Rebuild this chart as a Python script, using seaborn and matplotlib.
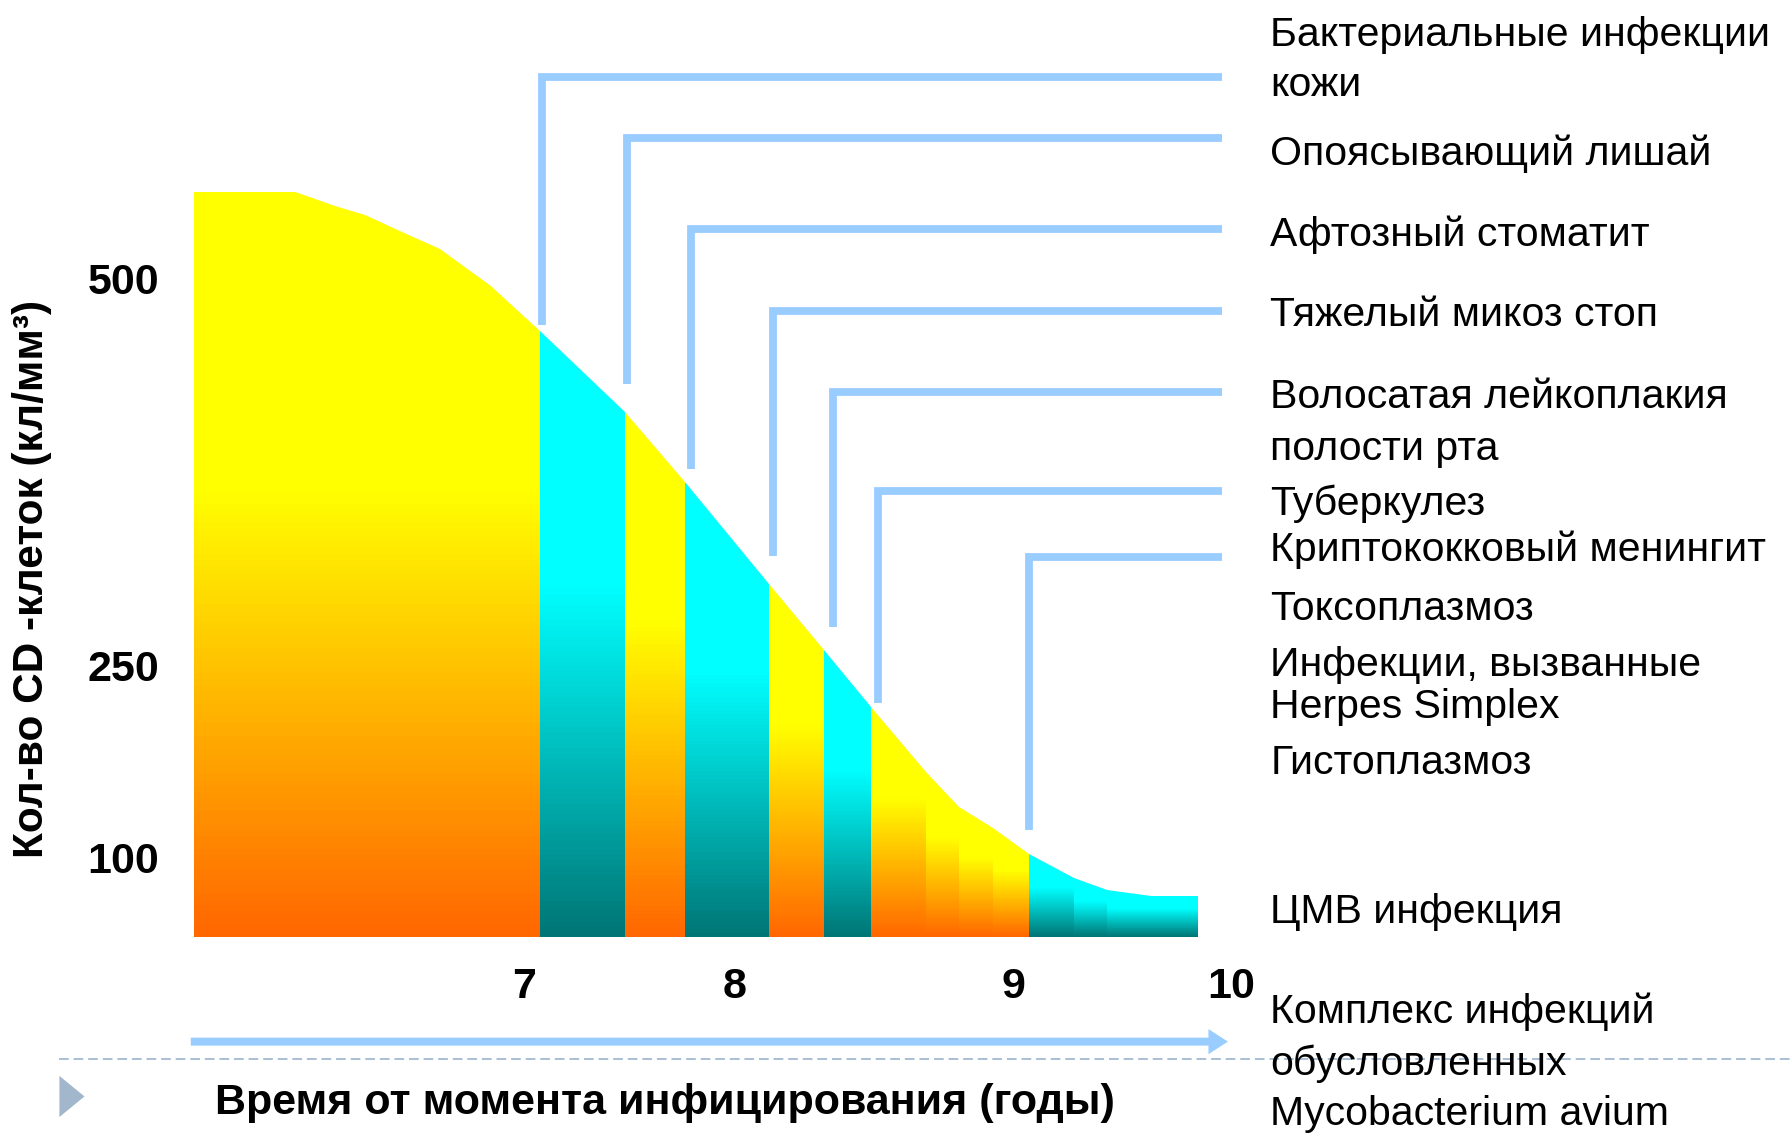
import numpy as np
import matplotlib
matplotlib.use("Agg")
import matplotlib.pyplot as plt
import seaborn as sns
from matplotlib.colors import LinearSegmentedColormap
from matplotlib.patches import Polygon, FancyArrow
from matplotlib.lines import Line2D

# --- values ---
# CD4 count against time since infection (years, cells per mm3)
years = [0, 2.13, 2.33, 2.98, 3.63, 4.40, 5.21, 5.91, 6.30, 6.59, 7.073, 7.477, 7.763,
         8.125, 8.320, 8.489, 8.686, 8.807, 8.927, 9.071, 9.279, 9.432, 9.630, 9.848]
cd4 = [556, 556, 554, 547, 541, 530, 519, 504, 495, 487, 466, 414, 369,
       303, 260, 218, 167, 140, 123, 103, 74, 59, 51, 51]

# coloured strips under the curve
strip_start = [0, 7.073, 7.477, 7.763, 8.125, 8.320, 8.489, 8.686, 8.807, 8.927,
               9.071, 9.279, 9.432]
strip_end = 9.848
strip_kind = ['warm', 'cool', 'warm', 'cool', 'warm', 'cool', 'warm', 'warm', 'warm',
              'warm', 'cool', 'cool', 'cool']

# onset markers of the infections
onset_year = [7.083, 7.488, 7.795, 8.139, 8.352, 8.515, 9.071]
onset_cd4 = [470, 432, 377, 321, 275, 221, 122]
leader_cd4 = [630, 591, 532, 479, 427, 363, 320]
leader_end = 9.958

x_ticks = [7, 8, 9, 10]
y_ticks = [100, 250, 500]

disease_lines = [
    "Бактериальные инфекции", "кожи", "Опоясывающий лишай", "Афтозный стоматит",
    "Тяжелый микоз стоп", "Волосатая лейкоплакия", "полости рта", "Туберкулез",
    "Криптококковый менингит", "Токсоплазмоз", "Инфекции, вызванные", "Herpes Simplex",
    "Гистоплазмоз", "ЦМВ инфекция", "Комплекс инфекций", "обусловленных",
    "Mycobacterium avium",
]

# --- layout (pixels of a 1568x992 frame) ---
W, H = 1568, 992
disease_line_y = [31, 74.5, 135, 205.5, 276, 347.5, 393, 441.5, 481.5, 533, 582,
                  619, 668, 798.5, 886, 931.5, 975]

# schematic (uneven) axes of the slide
X_YEARS = [-1, 0, 7, 8, 9, 10, 11, 12]
X_POS = [129, 170, 459, 643, 887, 1078, 1269, 1460]
Y_CD4 = [-100, 0, 100, 250, 900]
Y_POS = [-69, 0, 69, 237, 1118.4]


def x_fwd(v):
    return np.interp(v, X_YEARS, X_POS)


def x_inv(p):
    return np.interp(p, X_POS, X_YEARS)


def y_fwd(v):
    return np.interp(v, Y_CD4, Y_POS)


def y_inv(p):
    return np.interp(p, Y_POS, Y_CD4)


def fig_xy(x, y):
    return x / W, 1 - y / H


sns.set_theme(style="white")
plt.rcParams['font.family'] = ['Liberation Sans', 'DejaVu Sans']
plt.rcParams['text.color'] = 'black'
plt.rcParams['xtick.color'] = 'black'
plt.rcParams['ytick.color'] = 'black'

fig = plt.figure(figsize=(17.91, 11.33), dpi=100)
fig.patch.set_facecolor('white')
ax = fig.add_axes([170 / W, 1 - 820 / H, (1269 - 170) / W, 820 / H])
ax.set_xscale('function', functions=(x_fwd, x_inv))
ax.set_yscale('function', functions=(y_fwd, y_inv))
ax.set_xlim(0, 11)
ax.set_ylim(0, 680)
ax.set_facecolor('none')

# area under the curve used as clip
area = Polygon(list(zip([years[0]] + years + [years[-1]], [0] + cd4 + [0])),
               closed=True, facecolor='none', edgecolor='none')
ax.add_patch(area)

cmaps = {
    'warm': LinearSegmentedColormap.from_list('warm', [(0, '#FF6600'), (0.6, '#FFFF00'), (1, '#FFFF00')]),
    'cool': LinearSegmentedColormap.from_list('cool', [(0, '#007575'), (0.58, '#00FFFF'), (1, '#00FFFF')]),
}
edges = strip_start + [strip_end]
for i, kind in enumerate(strip_kind):
    x0, x1 = edges[i], edges[i + 1]
    top = np.interp(x0, years, cd4)
    h = np.linspace(0, y_fwd(top) + 2, 120)
    yy = y_inv(h)
    c = ((h[:-1] + h[1:]) / 2 / h[-1]).reshape(-1, 1)
    mesh = ax.pcolormesh([x0, x1], yy, c, cmap=cmaps[kind], vmin=0, vmax=1,
                         shading='flat', antialiased=False, linewidth=0)
    mesh.set_clip_path(area)

# leader lines from the onset of each infection
for xo, yb, yl in zip(onset_year, onset_cd4, leader_cd4):
    sns.lineplot(x=[xo, xo, leader_end], y=[yb, yl, yl], sort=False, estimator=None,
                 color='#99CCFF', lw=5.6, ax=ax, solid_capstyle='butt',
                 solid_joinstyle='miter')

ax.set_xticks(x_ticks)
ax.set_xticklabels([str(t) for t in x_ticks], fontsize=31, fontweight='bold', color='black')
ax.set_yticks(y_ticks)
ax.set_yticklabels([str(t) for t in y_ticks], fontsize=31, fontweight='bold', color='black')
ax.minorticks_off()
ax.tick_params(axis='x', length=0, pad=22)
ax.tick_params(axis='y', length=0, pad=25)
ax.set_xlabel('')
ax.set_ylabel('')
sns.despine(ax=ax, left=True, bottom=True)

fig.text(*fig_xy(28, 507), "Кол-во CD -клеток (кл/мм³)", rotation=90,
         ha='center', va='center', fontsize=30.5, fontweight='bold', color='black')
fig.text(*fig_xy(582, 966), "Время от момента инфицирования (годы)",
         ha='center', va='center', fontsize=31, fontweight='bold', color='black')

for s, y in zip(disease_lines, disease_line_y):
    fig.text(*fig_xy(1112, y), s, ha='left', va='center', fontsize=29.5, color='black')

# slide decorations: time arrow, dashed rule, bullet
x0, y0 = fig_xy(167, 912)
fig.add_artist(FancyArrow(x0, y0, (1075 - 167) / W, 0, width=7 / H, head_width=22 / H,
                          head_length=17 / W, length_includes_head=True,
                          transform=fig.transFigure, color='#99CCFF', lw=0))
fig.add_artist(Line2D([52 / W, 1], [1 - 927 / H] * 2, transform=fig.transFigure,
                      color='#A9BFD6', lw=1.4, linestyle=(0, (5, 2.5))))
fig.add_artist(Polygon([fig_xy(52, 942), fig_xy(52, 978), fig_xy(74, 960)],
                       closed=True, transform=fig.transFigure,
                       facecolor='#A2B6CC', edgecolor='none'))

fig.savefig('out.png', dpi=100)
